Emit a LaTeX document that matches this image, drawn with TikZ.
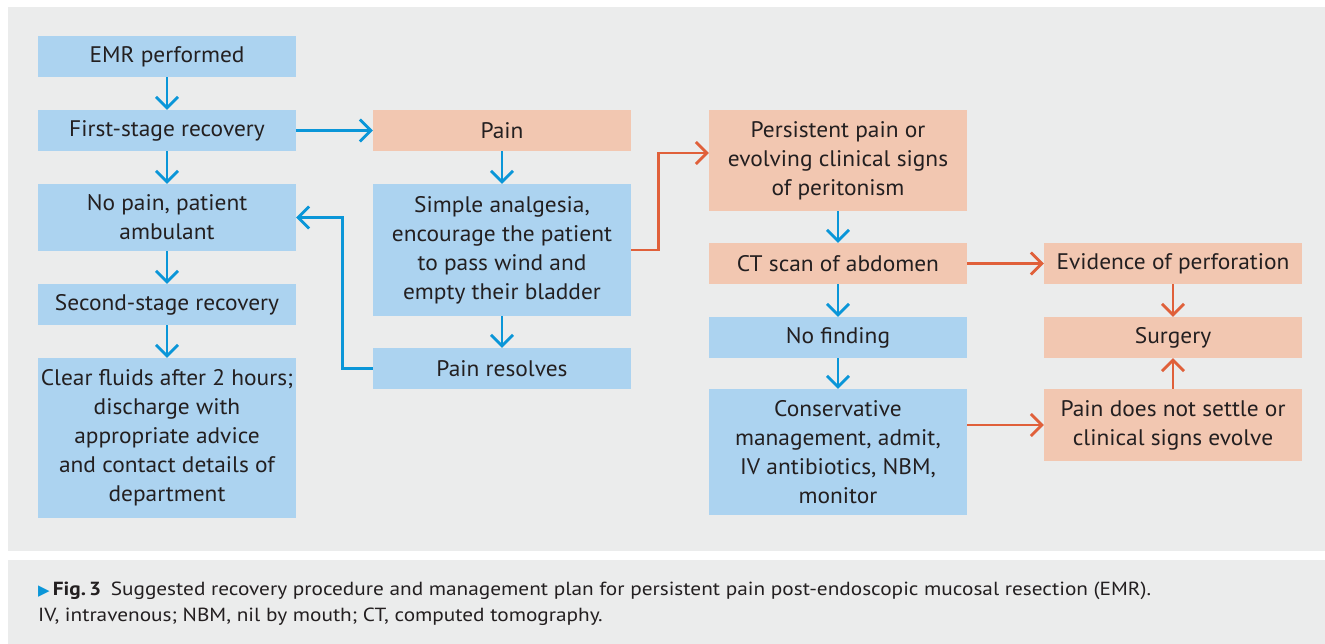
\documentclass[tikz,border=0pt]{standalone}
\usepackage{fontspec}
\setmainfont{PT Sans}
\newfontfamily\symfont{DejaVu Sans}
\newfontfamily\capfont[FakeStretch=1.12]{PT Sans}
\newfontfamily\boxfont[FakeStretch=1.04]{PT Sans}
\usetikzlibrary{arrows.meta}
\definecolor{bg}{HTML}{EBECEC}
\definecolor{bbox}{HTML}{ACD3F0}
\definecolor{obox}{HTML}{F2C7B1}
\definecolor{barrow}{HTML}{0A96D8}
\definecolor{oarrow}{HTML}{E0603A}
\definecolor{txt}{HTML}{231F20}
\begin{document}
\begin{tikzpicture}[x=1pt,y=-1pt,
  box/.style={minimum width=258pt, inner sep=0pt, align=center,
    font=\boxfont\fontsize{22.5}{29}\selectfont, text=txt},
  bluebox/.style={box, fill=bbox},
  orangebox/.style={box, fill=obox},
  barr/.style={draw=barrow, line width=2.7pt,
    -{Straight Barb[length=11pt,width=22pt,line width=2.7pt]}},
  oarr/.style={draw=oarrow, line width=2.7pt,
    -{Straight Barb[length=11pt,width=22pt,line width=2.7pt]}},
  captext/.style={inner sep=0pt, anchor=base west, text=txt,
    font=\capfont\fontsize{19}{26}\selectfont}]
\useasboundingbox (0,0) rectangle (1325,644);
\fill[white] (0,0) rectangle (1325,644);
\fill[bg] (8,7) rectangle (1325,551);
\fill[bg] (8,560) rectangle (1325,644);

% column 1
\node[bluebox, minimum height=41pt] (emr) at (167,56.5) {EMR performed};
\node[bluebox, minimum height=41pt] (fs) at (167,130.5) {First-stage recovery};
\node[bluebox, minimum height=67pt] (np) at (167,217.5) {No pain, patient\\ambulant};
\node[bluebox, minimum height=41pt] (ss) at (167,304.5) {Second-stage recovery};
\node[bluebox, minimum height=160pt] (cf) at (167,438) {Clear fluids after 2 hours;\\discharge with\\appropriate advice\\and contact details of\\department};

% column 2
\node[orangebox, minimum height=41pt] (pain) at (502,130.5) {Pain};
\node[bluebox, minimum height=132pt] (sa) at (502,250) {Simple analgesia,\\encourage the patient\\to pass wind and\\empty their bladder};
\node[bluebox, minimum height=41pt] (pr) at (502,368.5) {Pain resolves};

% column 3
\node[orangebox, minimum height=101pt] (pp) at (838,160.5) {Persistent pain or\\evolving clinical signs\\of peritonism};
\node[orangebox, minimum height=41pt] (ct) at (838,263.5) {CT scan of abdomen};
\node[bluebox, minimum height=41pt] (nf) at (838,337.5) {No finding};
\node[bluebox, minimum height=126pt] (cm) at (838,452) {Conservative\\management, admit,\\IV antibiotics, NBM,\\monitor};

% column 4
\node[orangebox, minimum height=41pt] (ev) at (1173,263.5) {Evidence of perforation};
\node[orangebox, minimum height=41pt] (su) at (1173,337.5) {Surgery};
\node[orangebox, minimum height=72pt] (pd) at (1173,425) {Pain does not settle or\\clinical signs evolve};

% arrows
\draw[barr] (emr) -- (fs);
\draw[barr] (fs) -- (np);
\draw[barr] (np) -- (ss);
\draw[barr] (ss) -- (cf);
\draw[barr] (fs) -- (pain);
\draw[barr] (pain) -- (sa);
\draw[barr] (sa) -- (pr);
\draw[barr] (pr.west) -- ++(-30,0) |- (np.east);
\draw[oarr] (sa.east) -- ++(27,0) |- ([yshift=7.5pt]pp.west);
\draw[barr] (pp) -- (ct);
\draw[barr] (ct) -- (nf);
\draw[barr] (nf) -- (cm);
\draw[oarr] (ct) -- (ev);
\draw[oarr] (ev) -- (su);
\draw[oarr] (pd) -- (su);
\draw[oarr] (cm.east |- pd.west) -- (pd.west);

% caption
\node[captext] (cap1) at (38,595) {\textcolor{barrow}{\symfont\fontsize{15}{15}\selectfont ▶}\,\textbf{Fig.\,3}\enspace Suggested recovery procedure and management plan for persistent pain post-endoscopic mucosal resection (EMR).};
\node[captext] (cap2) at (38,621) {IV, intravenous; NBM, nil by mouth; CT, computed tomography.};
\end{tikzpicture}
\end{document}
